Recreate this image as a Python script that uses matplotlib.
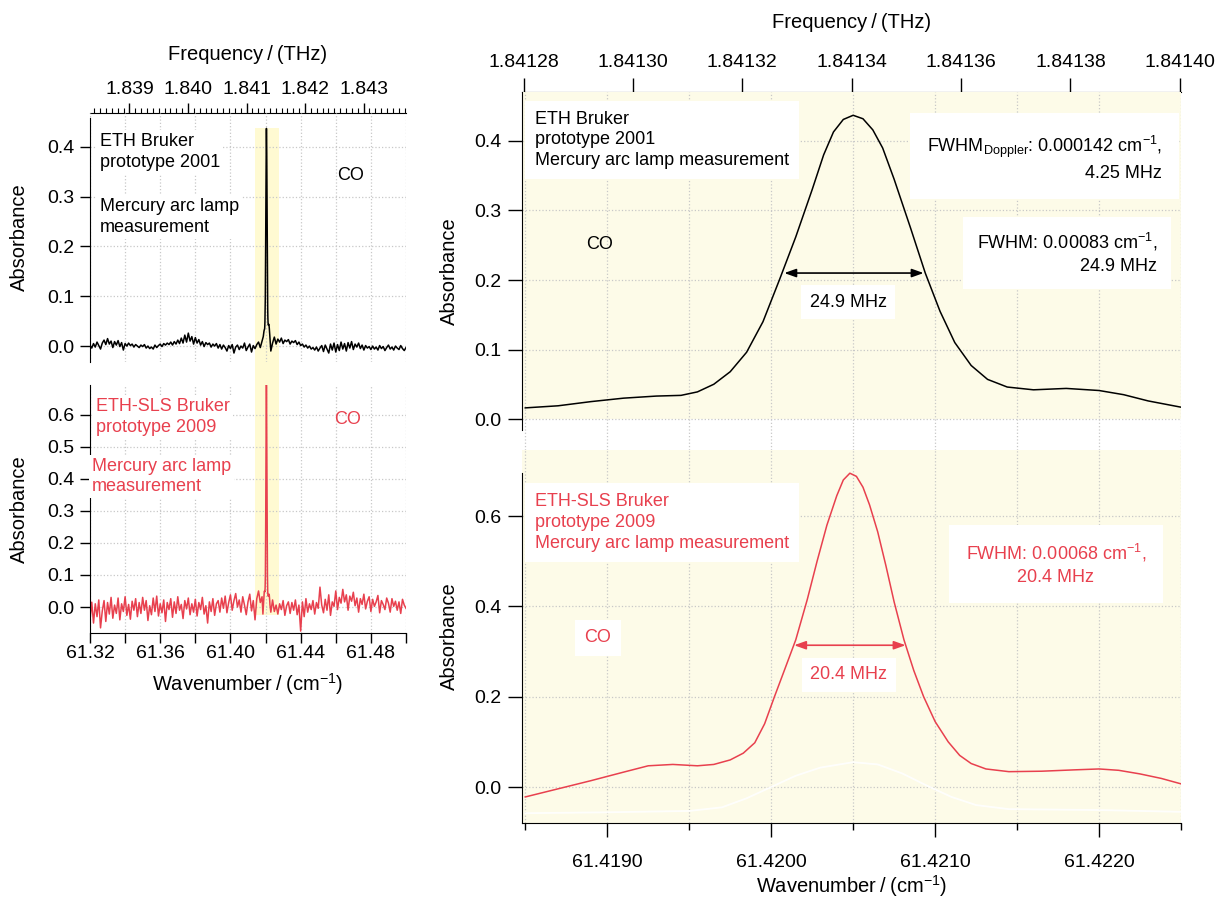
import numpy as np
import matplotlib
matplotlib.use('Agg')
import matplotlib.pyplot as plt
import matplotlib.transforms as mtransforms
from matplotlib.patches import Rectangle
from matplotlib.ticker import MultipleLocator, FixedLocator, FormatStrFormatter

plt.rcParams['font.family'] = ['Liberation Sans', 'DejaVu Sans']
plt.rcParams['mathtext.default'] = 'regular'

C_THZ = 0.0299792458  # THz per cm-1

# high resolution scans of the CO line (wavenumber in cm-1, absorbance)
hr_2001_wn = [61.41850, 61.41870, 61.41890, 61.41910, 61.41930, 61.41945, 61.41955,
              61.41965, 61.41975, 61.41985, 61.41995, 61.42005, 61.42015, 61.42025,
              61.42032, 61.42038, 61.42044, 61.42050, 61.42056, 61.42062, 61.42068,
              61.42075, 61.42085, 61.42094, 61.42103, 61.42112, 61.42122, 61.42132,
              61.42144, 61.42160, 61.42180, 61.42200, 61.42215, 61.42230, 61.42250]
hr_2001_abs = [0.016, 0.019, 0.025, 0.030, 0.033, 0.034, 0.039,
               0.050, 0.068, 0.096, 0.140, 0.200, 0.262, 0.330,
               0.380, 0.413, 0.431, 0.437, 0.432, 0.416, 0.390,
               0.345, 0.275, 0.210, 0.155, 0.110, 0.077, 0.057,
               0.046, 0.042, 0.044, 0.041, 0.035, 0.026, 0.017]

hr_2009_wn = [61.41850, 61.41870, 61.41890, 61.41910, 61.41925, 61.41940, 61.41955,
              61.41965, 61.41975, 61.41983, 61.41990, 61.41996, 61.42002, 61.42008,
              61.42015, 61.42022, 61.42028, 61.42034, 61.42040, 61.42044, 61.42048,
              61.42052, 61.42056, 61.42060, 61.42065, 61.42070, 61.42075, 61.42081,
              61.42087, 61.42093, 61.42100, 61.42108, 61.42115, 61.42122, 61.42131,
              61.42145, 61.42165, 61.42185, 61.42200, 61.42212, 61.42225, 61.42238,
              61.42250]
hr_2009_abs = [-0.022, -0.004, 0.014, 0.033, 0.047, 0.050, 0.047,
               0.050, 0.060, 0.075, 0.098, 0.140, 0.200, 0.258,
               0.326, 0.415, 0.500, 0.580, 0.645, 0.680, 0.695,
               0.688, 0.664, 0.625, 0.565, 0.490, 0.410, 0.326,
               0.258, 0.200, 0.145, 0.100, 0.070, 0.052, 0.040,
               0.034, 0.035, 0.038, 0.040, 0.037, 0.029, 0.019,
               0.007]

ref_wn = [61.41850, 61.41900, 61.41950, 61.41970, 61.41985, 61.42000, 61.42015,
          61.42030, 61.42050, 61.42065, 61.42080, 61.42095, 61.42110, 61.42125,
          61.42145, 61.42200, 61.42250]
ref_abs = [-0.058, -0.056, -0.053, -0.045, -0.025, 0.000, 0.025,
           0.043, 0.055, 0.050, 0.030, 0.003, -0.022, -0.040,
           -0.049, -0.051, -0.055]

# survey spectra baseline, 0.001 cm-1 sampling, below and above the line
base_lo_wn = np.linspace(61.320, 61.418, 99)
base_hi_wn = np.linspace(61.423, 61.500, 78)

base_2001_lo = [
    0.002, -0.004, 0.005, -0.002, 0.008, 0.001, -0.006, 0.006, 0.012, 0.003, 0.015, 0.004, 0.010, -0.003, 0.009,
    0.002, 0.011, -0.001, 0.007, -0.008, 0.005, 0.000, 0.006, 0.001, 0.004, -0.002, 0.003, 0.000, -0.003, 0.002,
    -0.001, 0.003, -0.004, 0.000, -0.005, -0.002, -0.006, 0.002, -0.003, 0.001, 0.004, -0.001, 0.005, 0.002, 0.006,
    0.003, 0.008, 0.002, 0.009, 0.004, 0.012, 0.005, 0.016, 0.006, 0.022, 0.008, 0.026, 0.010, 0.019, 0.004,
    0.017, 0.006, 0.013, 0.002, 0.009, -0.001, 0.007, 0.003, 0.006, -0.002, 0.004, 0.000, 0.005, -0.004, 0.003,
    -0.006, 0.002, -0.003, -0.010, 0.001, -0.005, 0.003, -0.014, -0.002, 0.002, -0.007, 0.000, -0.004, 0.006, -0.009,
    -0.002, 0.004, -0.012, 0.001, -0.005, 0.003, 0.008, -0.003, 0.010]
base_2001_hi = [
    -0.010, 0.006, 0.018, 0.004, 0.014, 0.008, 0.016, 0.005, 0.012, 0.009, 0.013, 0.004, 0.010, 0.007, 0.011,
    0.003, 0.008, 0.001, 0.004, -0.002, 0.002, -0.004, 0.000, -0.006, -0.003, -0.008, -0.002, -0.010, -0.004, 0.001,
    -0.011, 0.002, -0.006, -0.014, 0.004, -0.008, 0.006, -0.012, 0.003, -0.009, 0.008, -0.006, 0.005, -0.010, 0.007,
    -0.004, 0.009, -0.007, 0.004, -0.002, 0.006, -0.005, 0.002, -0.008, 0.001, -0.004, -0.001, -0.007, 0.000, -0.006,
    -0.002, -0.008, 0.001, -0.005, -0.001, -0.009, -0.003, 0.002, -0.006, -0.002, -0.008, 0.000, -0.004, -0.007, 0.001,
    -0.005, -0.009, -0.003]

base_2009_lo = [
    -0.040, 0.015, -0.050, 0.010, -0.030, 0.022, -0.065, -0.012, 0.020, -0.045, 0.014, -0.022, 0.030, -0.035, 0.006,
    -0.020, 0.028, -0.040, 0.010, -0.014, 0.032, -0.026, 0.008, -0.038, 0.018, -0.010, 0.026, -0.030, 0.014, -0.020,
    0.030, -0.010, 0.020, -0.042, 0.004, -0.024, 0.028, -0.014, 0.034, -0.028, 0.010, -0.018, 0.022, -0.045, 0.014,
    -0.008, 0.026, -0.032, 0.016, -0.020, 0.032, -0.010, 0.008, -0.036, 0.020, -0.006, 0.028, -0.024, 0.010, -0.016,
    0.024, -0.028, 0.014, -0.008, 0.030, -0.022, 0.004, -0.050, 0.016, -0.014, 0.026, -0.026, 0.010, 0.020, -0.016,
    0.028, -0.004, 0.034, -0.018, 0.014, 0.038, -0.010, 0.020, 0.042, 0.000, 0.022, -0.016, 0.032, 0.006, -0.024,
    0.016, 0.040, -0.012, 0.020, -0.040, 0.026, 0.050, 0.014, 0.032]
base_2009_hi = [
    -0.016, 0.022, -0.014, 0.006, -0.022, 0.010, -0.008, 0.020, -0.026, 0.004, 0.016, -0.020, 0.014, -0.010, 0.022,
    -0.024, 0.006, -0.075, 0.016, -0.030, 0.026, -0.016, 0.010, -0.008, 0.020, -0.022, 0.014, -0.004, 0.062, 0.006,
    -0.018, 0.024, -0.010, 0.038, -0.026, 0.016, 0.002, 0.050, -0.008, 0.030, 0.012, 0.055, 0.016, 0.038, -0.010,
    0.034, 0.018, 0.046, 0.004, 0.028, -0.016, 0.026, 0.008, 0.040, -0.006, 0.018, 0.032, -0.014, 0.024, 0.002,
    0.016, 0.036, -0.018, 0.020, 0.008, -0.008, 0.028, 0.012, -0.016, 0.026, 0.002, 0.018, -0.010, 0.016, -0.020,
    0.024, 0.006, -0.004]

band_lo, band_hi = 61.4140, 61.4277
freq_ticks_hr = [1.84128, 1.84130, 1.84132, 1.84134, 1.84136, 1.84138, 1.84140]

RED = '#e8404e'
YELLOW = '#fdfbe8'
BAND = '#fffad2'
GRID = dict(color='#c8c8c8', linestyle=':', linewidth=0.9)
TICK_FS = 14
LAB_FS = 14.5
TXT_FS = 13

survey_wn = np.concatenate([base_lo_wn, hr_2001_wn, base_hi_wn])
survey_2001 = np.concatenate([base_2001_lo, hr_2001_abs, base_2001_hi])
survey_wn_09 = np.concatenate([base_lo_wn, hr_2009_wn, base_hi_wn])
survey_2009 = np.concatenate([base_2009_lo, hr_2009_abs, base_2009_hi])


def to_thz(w):
    return w * C_THZ


def to_wn(f):
    return f / C_THZ


W, H = 1218, 897
fig = plt.figure(figsize=(W / 100, H / 100), dpi=100)

ax_tl = fig.add_axes([90 / W, 1 - 362 / H, 316 / W, 249 / H], facecolor='none')
ax_bl = fig.add_axes([90 / W, 1 - 633 / H, 316 / W, 248 / H], facecolor='none')
ax_tr = fig.add_axes([522 / W, 1 - 450 / H, 659 / W, 358 / H], facecolor='white')
ax_br = fig.add_axes([522 / W, 1 - 823 / H, 659 / W, 373 / H], facecolor=YELLOW)

# highlighted region spanning both survey panels
band = Rectangle((band_lo, 1 - 615 / H), band_hi - band_lo, (615 - 128) / H,
                 transform=mtransforms.blended_transform_factory(ax_tl.transData, fig.transFigure),
                 facecolor=BAND, edgecolor='none', zorder=-1)
fig.add_artist(band)

# ---------- survey panels (left) ----------
for ax in (ax_tl, ax_bl):
    ax.set_xlim(61.32, 61.50)
    ax.xaxis.set_major_locator(MultipleLocator(0.04))
    ax.xaxis.set_minor_locator(MultipleLocator(0.02))
    ax.yaxis.set_major_locator(MultipleLocator(0.1))
    ax.yaxis.set_major_formatter(FormatStrFormatter('%.1f'))
    ax.grid(True, which='both', axis='x', **GRID)
    ax.grid(True, which='major', axis='y', **GRID)
    ax.spines['top'].set_visible(False)
    ax.spines['right'].set_visible(False)
    ax.tick_params(axis='y', length=7, width=1, labelsize=TICK_FS, pad=4)
    ax.set_ylabel('Absorbance', fontsize=LAB_FS, labelpad=13)

ax_tl.plot(survey_wn, survey_2001, color='black', lw=1.1)
ax_tl.set_ylim(-0.032, 0.468)
ax_tl.spines['bottom'].set_visible(False)
ax_tl.spines['left'].set_bounds(-0.032, 0.458)
ax_tl.tick_params(axis='x', which='both', bottom=False, labelbottom=False)
sec_tl = ax_tl.secondary_xaxis('top', functions=(to_thz, to_wn))
sec_tl.xaxis.set_major_locator(MultipleLocator(0.001))
sec_tl.xaxis.set_minor_locator(MultipleLocator(0.0001))
sec_tl.xaxis.set_major_formatter(FormatStrFormatter('%.3f'))
sec_tl.tick_params(which='major', length=7, width=1, labelsize=TICK_FS, pad=4)
sec_tl.tick_params(which='minor', length=3.5, width=0.8)
sec_tl.set_xlabel('Frequency\u2009/\u2009(THz)', fontsize=LAB_FS, labelpad=15)

ax_tl.text(0.032, 0.843, 'ETH Bruker\nprototype 2001', transform=ax_tl.transAxes,
           fontsize=TXT_FS, ha='left', va='center', linespacing=1.3,
           bbox=dict(facecolor='white', edgecolor='none', pad=2))
ax_tl.text(0.032, 0.582, 'Mercury arc lamp\nmeasurement', transform=ax_tl.transAxes,
           fontsize=TXT_FS, ha='left', va='center', linespacing=1.3,
           bbox=dict(facecolor='white', edgecolor='none', pad=2))
ax_tl.text(0.823, 0.747, 'CO', transform=ax_tl.transAxes, fontsize=TXT_FS,
           ha='center', va='center')

ax_bl.plot(survey_wn_09, survey_2009, color=RED, lw=1.1)
ax_bl.set_ylim(-0.081, 0.692)
ax_bl.xaxis.set_major_formatter(FormatStrFormatter('%.2f'))
ax_bl.tick_params(axis='x', which='both', length=7, width=1, labelsize=TICK_FS, pad=2)
ax_bl.set_xlabel('Wavenumber\u2009/\u2009(cm$^{-1}$)', fontsize=LAB_FS, labelpad=6)
ax_bl.text(0.019, 0.871, 'ETH-SLS Bruker\nprototype 2009', transform=ax_bl.transAxes,
           fontsize=TXT_FS, color=RED, ha='left', va='center', linespacing=1.3,
           bbox=dict(facecolor='white', edgecolor='none', pad=2))
ax_bl.text(0.006, 0.631, 'Mercury arc lamp\nmeasurement', transform=ax_bl.transAxes,
           fontsize=TXT_FS, color=RED, ha='left', va='center', linespacing=1.3,
           bbox=dict(facecolor='white', edgecolor='none', pad=2))
ax_bl.text(0.816, 0.859, 'CO', transform=ax_bl.transAxes, fontsize=TXT_FS,
           color=RED, ha='center', va='center')

# ---------- high resolution panels (right) ----------
for ax in (ax_tr, ax_br):
    ax.set_xlim(61.41848, 61.4225)
    ax.xaxis.set_major_locator(MultipleLocator(0.001))
    ax.xaxis.set_minor_locator(MultipleLocator(0.0005))
    ax.yaxis.set_major_formatter(FormatStrFormatter('%.1f'))
    ax.grid(True, which='both', axis='x', **GRID)
    ax.grid(True, which='major', axis='y', **GRID)
    ax.spines['top'].set_visible(False)
    ax.spines['right'].set_visible(False)
    ax.tick_params(axis='y', length=10, width=1, labelsize=TICK_FS, pad=5)
    ax.set_ylabel('Absorbance', fontsize=LAB_FS, labelpad=11)

ax_tr.axhspan(0.0, 0.4705, color=YELLOW, lw=0, zorder=1)
ax_tr.plot(hr_2001_wn, hr_2001_abs, color='black', lw=1.1, zorder=3)
ax_tr.set_ylim(-0.0446, 0.4705)
ax_tr.yaxis.set_major_locator(MultipleLocator(0.1))
ax_tr.spines['bottom'].set_visible(False)
ax_tr.spines['left'].set_bounds(-0.016, 0.4705)
ax_tr.tick_params(axis='x', which='both', bottom=False, labelbottom=False)
sec_tr = ax_tr.secondary_xaxis('top', functions=(to_thz, to_wn))
sec_tr.xaxis.set_major_locator(FixedLocator(freq_ticks_hr))
sec_tr.xaxis.set_major_formatter(FormatStrFormatter('%.5f'))
sec_tr.tick_params(which='major', length=10, width=1, labelsize=TICK_FS, pad=5)
sec_tr.tick_params(which='minor', length=0)
sec_tr.set_xlabel('Frequency\u2009/\u2009(THz)', fontsize=LAB_FS, labelpad=19)

ax_tr.text(0.0197, 0.866, 'ETH Bruker\nprototype 2001\nMercury arc lamp measurement',
           transform=ax_tr.transAxes, fontsize=TXT_FS, ha='left', va='center',
           linespacing=1.3, bbox=dict(facecolor='white', edgecolor='none', pad=7))
ax_tr.text(0.971, 0.816, 'FWHM$_{Doppler}$: 0.000142 cm$^{-1}$,\n4.25 MHz',
           transform=ax_tr.transAxes, fontsize=TXT_FS, ha='right', va='center',
           multialignment='right', linespacing=1.4,
           bbox=dict(facecolor='white', edgecolor='none', pad=12))
ax_tr.text(0.9636, 0.550, 'FWHM: 0.00083 cm$^{-1}$,\n24.9 MHz',
           transform=ax_tr.transAxes, fontsize=TXT_FS, ha='right', va='center',
           multialignment='right', linespacing=1.4,
           bbox=dict(facecolor='white', edgecolor='none', pad=10))
ax_tr.text(0.118, 0.575, 'CO', transform=ax_tr.transAxes, fontsize=TXT_FS,
           ha='center', va='center')
ax_tr.annotate('', xy=(61.42008, 0.210), xytext=(61.42093, 0.210),
               arrowprops=dict(arrowstyle='<|-|>,head_length=0.7,head_width=0.25',
                               color='black', lw=1.2, shrinkA=0, shrinkB=0), zorder=4)
ax_tr.text(0.4947, 0.413, '24.9 MHz', transform=ax_tr.transAxes, fontsize=TXT_FS,
           ha='center', va='center', bbox=dict(facecolor='white', edgecolor='none', pad=6))

ax_br.plot(ref_wn, ref_abs, color='white', lw=1.3, alpha=0.9, zorder=2.5)
ax_br.plot(hr_2009_wn, hr_2009_abs, color=RED, lw=1.1, zorder=3)
ax_br.set_ylim(-0.0797, 0.7464)
ax_br.yaxis.set_major_locator(MultipleLocator(0.2))
ax_br.spines['left'].set_bounds(-0.0797, 0.695)
ax_br.xaxis.set_major_formatter(FormatStrFormatter('%.4f'))
ax_br.tick_params(axis='x', which='major', length=10, width=1, labelsize=TICK_FS, pad=12)
ax_br.tick_params(axis='x', which='minor', length=5, width=1)
ax_br.set_xlabel('Wavenumber\u2009/\u2009(cm$^{-1}$)', fontsize=LAB_FS, labelpad=2)

ax_br.text(0.0197, 0.806, 'ETH-SLS Bruker\nprototype 2009\nMercury arc lamp measurement',
           transform=ax_br.transAxes, fontsize=TXT_FS, color=RED, ha='left', va='center',
           linespacing=1.3, bbox=dict(facecolor='white', edgecolor='none', pad=7))
ax_br.text(0.810, 0.694, 'FWHM: 0.00068 cm$^{-1}$,\n20.4 MHz',
           transform=ax_br.transAxes, fontsize=TXT_FS, color=RED, ha='center',
           va='center', multialignment='center', linespacing=1.4,
           bbox=dict(facecolor='white', edgecolor='none', pad=12))
ax_br.text(0.1153, 0.496, 'CO', transform=ax_br.transAxes, fontsize=TXT_FS,
           color=RED, ha='center', va='center',
           bbox=dict(facecolor='white', edgecolor='none', pad=7))
ax_br.annotate('', xy=(61.42014, 0.314), xytext=(61.42082, 0.314),
               arrowprops=dict(arrowstyle='<|-|>,head_length=0.7,head_width=0.25',
                               color=RED, lw=1.2, shrinkA=0, shrinkB=0), zorder=4)
ax_br.text(0.496, 0.397, '20.4 MHz', transform=ax_br.transAxes, fontsize=TXT_FS,
           color=RED, ha='center', va='center',
           bbox=dict(facecolor='white', edgecolor='none', pad=6))

fig.savefig('out.png', dpi=100)
